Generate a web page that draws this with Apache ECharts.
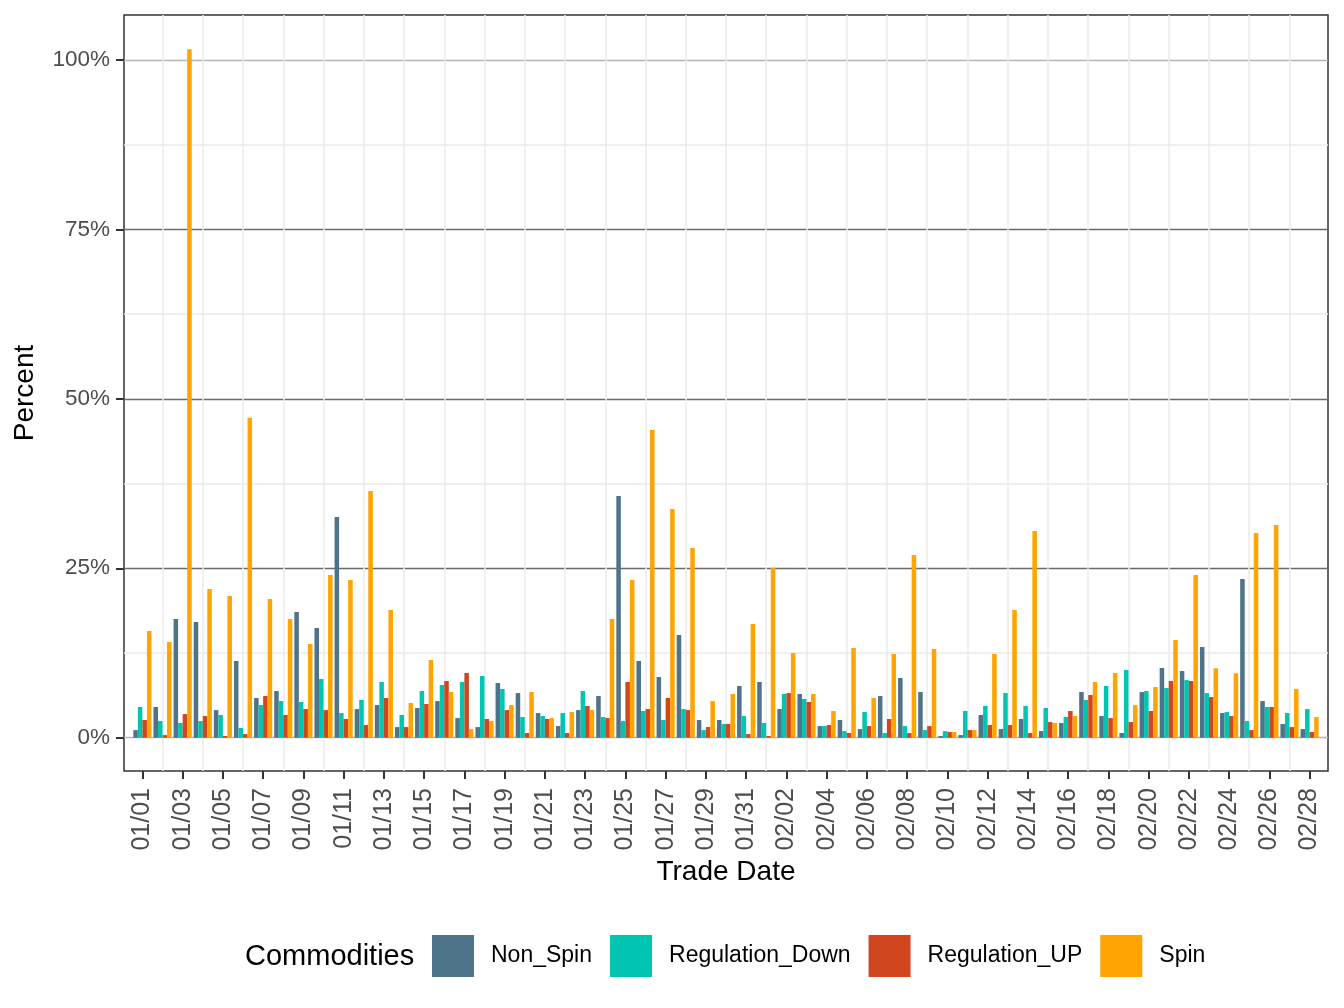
<!DOCTYPE html>
<html>
<head>
<meta charset="utf-8">
<script src="https://cdn.jsdelivr.net/npm/echarts@6/dist/echarts.min.js"></script>
<style>html,body{margin:0;padding:0;background:#fff;}#c{width:1344px;height:1008px;}</style>
</head>
<body>
<div id="c"></div>
<script>
const dates = ['01/01','01/02','01/03','01/04','01/05','01/06','01/07','01/08','01/09','01/10',
'01/11','01/12','01/13','01/14','01/15','01/16','01/17','01/18','01/19','01/20',
'01/21','01/22','01/23','01/24','01/25','01/26','01/27','01/28','01/29','01/30','01/31',
'02/01','02/02','02/03','02/04','02/05','02/06','02/07','02/08','02/09','02/10',
'02/11','02/12','02/13','02/14','02/15','02/16','02/17','02/18','02/19','02/20',
'02/21','02/22','02/23','02/24','02/25','02/26','02/27','02/28'];

const nonSpin = [1.13,4.53,17.52,17.08,4.08,11.32,5.86,6.89,18.55,16.19,
32.58,4.23,4.82,1.57,4.38,5.41,2.9,1.57,8.07,6.59,
3.64,1.72,4.08,6.15,35.68,11.32,8.96,15.16,2.61,2.61,7.63,
8.22,4.23,6.45,1.72,2.61,1.28,6.15,8.81,6.74,0.25,
0.39,3.35,1.28,2.76,0.98,2.17,6.74,3.2,0.69,6.74,
10.29,9.84,13.39,3.64,23.43,5.41,2.02,1.28];

const regDown = [4.53,2.46,2.17,2.46,3.35,1.43,4.82,5.41,5.27,8.66,
3.64,5.56,8.22,3.35,6.89,7.78,8.22,9.1,7.19,3.05,
3.2,3.64,6.89,3.05,2.46,3.94,2.61,4.23,1.13,2.02,3.2,
2.17,6.45,5.71,1.72,0.98,3.79,0.69,1.72,1.13,0.98,
3.94,4.68,6.59,4.68,4.38,3.05,5.56,7.63,9.99,6.89,
7.33,8.51,6.59,3.79,2.46,4.53,3.64,4.23];

const regUp = [2.61,0.39,3.49,3.2,0.25,0.54,6.15,3.35,4.23,4.08,
2.76,1.87,5.86,1.57,4.97,8.37,9.55,2.76,4.08,0.69,
2.76,0.69,4.68,2.9,8.22,4.23,5.86,4.08,1.57,2.02,0.54,
0.25,6.59,5.27,1.87,0.69,1.72,2.76,0.69,1.72,0.84,
1.13,1.87,1.87,0.69,2.31,3.94,6.3,2.9,2.31,3.94,
8.37,8.37,6.0,3.2,1.13,4.53,1.57,0.84];

const spin = [15.75,14.12,101.6,21.95,20.92,47.2,20.47,17.52,13.83,24.0,
23.28,36.42,18.85,5.12,11.47,6.74,1.28,2.46,4.82,6.74,
2.9,3.79,4.08,17.52,23.28,45.4,33.76,28.0,5.41,6.45,16.78,
25.05,12.5,6.45,3.94,13.24,5.86,12.35,26.97,13.09,0.84,
1.13,12.35,18.85,30.51,2.17,3.2,8.22,9.55,4.82,7.48,
14.42,24.0,10.24,9.5,30.22,31.4,7.19,3.05];

const seriesNames = ['Non_Spin','Regulation_Down','Regulation_UP','Spin'];
const seriesColors = ['#4f7489','#00c6b1','#d0461f','#ffa400'];
const yTicks = [0,25,50,75,100];
const xTickIdx = dates.map((d,i)=>i).filter(i=>i%2===0);

const FONT = 'Liberation Sans, Arial, Helvetica, sans-serif';
const allSeries = [nonSpin, regDown, regUp, spin];

const chart = echarts.init(document.getElementById('c'), null, {renderer:'canvas'});
chart.setOption({
  animation: false,
  backgroundColor: '#ffffff',
  textStyle: {fontFamily: FONT},
  title: {
    text: 'Commodities', left: 245, top: 942, padding: 0,
    textStyle: {fontSize: 29, fontWeight: 'normal', color: '#000', fontFamily: FONT}
  },
  legend: {
    left: 432, top: 935, padding: 0,
    itemWidth: 42, itemHeight: 42, itemGap: 18, icon: 'rect',
    textStyle: {fontSize: 23, color: '#000', padding: [3,0,0,12], fontFamily: FONT},
    data: seriesNames
  },
  grid: {
    left: 124, right: 16, top: 15, bottom: 237,
    show: true, borderColor: '#333', borderWidth: 1.5, backgroundColor: 'transparent',
    containLabel: false
  },
  xAxis: {
    type: 'value',
    min: -0.914, max: dates.length - 1 + 0.914,
    minInterval: 2, maxInterval: 2,
    axisLine: {show: false, onZero: false},
    splitLine: {show: false},
    minorTick: {show: false, splitNumber: 2},
    minorSplitLine: {show: true, lineStyle: {color: '#ebebeb', width: 1.5}},
    axisTick: {show: true, length: 8, customValues: xTickIdx, lineStyle: {color: '#333', width: 2}},
    axisLabel: {
      customValues: xTickIdx,
      formatter: v => dates[Math.round(v)] || '',
      rotate: 90, margin: 17, fontSize: 25, color: '#4d4d4d', fontFamily: FONT
    },
    name: 'Trade Date', nameLocation: 'middle', nameGap: 86,
    nameTextStyle: {fontSize: 28, color: '#000', fontFamily: FONT}
  },
  yAxis: {
    type: 'value',
    min: -4.91, max: 106.64,
    minInterval: 25, maxInterval: 25,
    axisLine: {show: false, onZero: false},
    splitLine: {show: true,
      lineStyle: {color: ['#b5b5b5','#6a6a6a','#6a6a6a','#6a6a6a','#b5b5b5'], width: 1.4}},
    minorTick: {show: false, splitNumber: 2},
    minorSplitLine: {show: true, lineStyle: {color: '#ebebeb', width: 1.5}},
    axisTick: {show: true, length: 8, customValues: yTicks, lineStyle: {color: '#333', width: 2}},
    axisLabel: {
      customValues: yTicks,
      formatter: v => v + '%', margin: 14, fontSize: 22.5, color: '#4d4d4d', fontFamily: FONT
    },
    name: 'Percent', nameLocation: 'middle', nameGap: 85,
    nameTextStyle: {fontSize: 28, color: '#000', fontFamily: FONT}
  },
  series: seriesNames.map((name, k) => ({
    name: name,
    type: 'bar',
    barWidth: 4.53,
    barGap: '0%',
    itemStyle: {color: seriesColors[k]},
    data: allSeries[k].map((v, i) => [i, v])
  }))
});
</script>
</body>
</html>
